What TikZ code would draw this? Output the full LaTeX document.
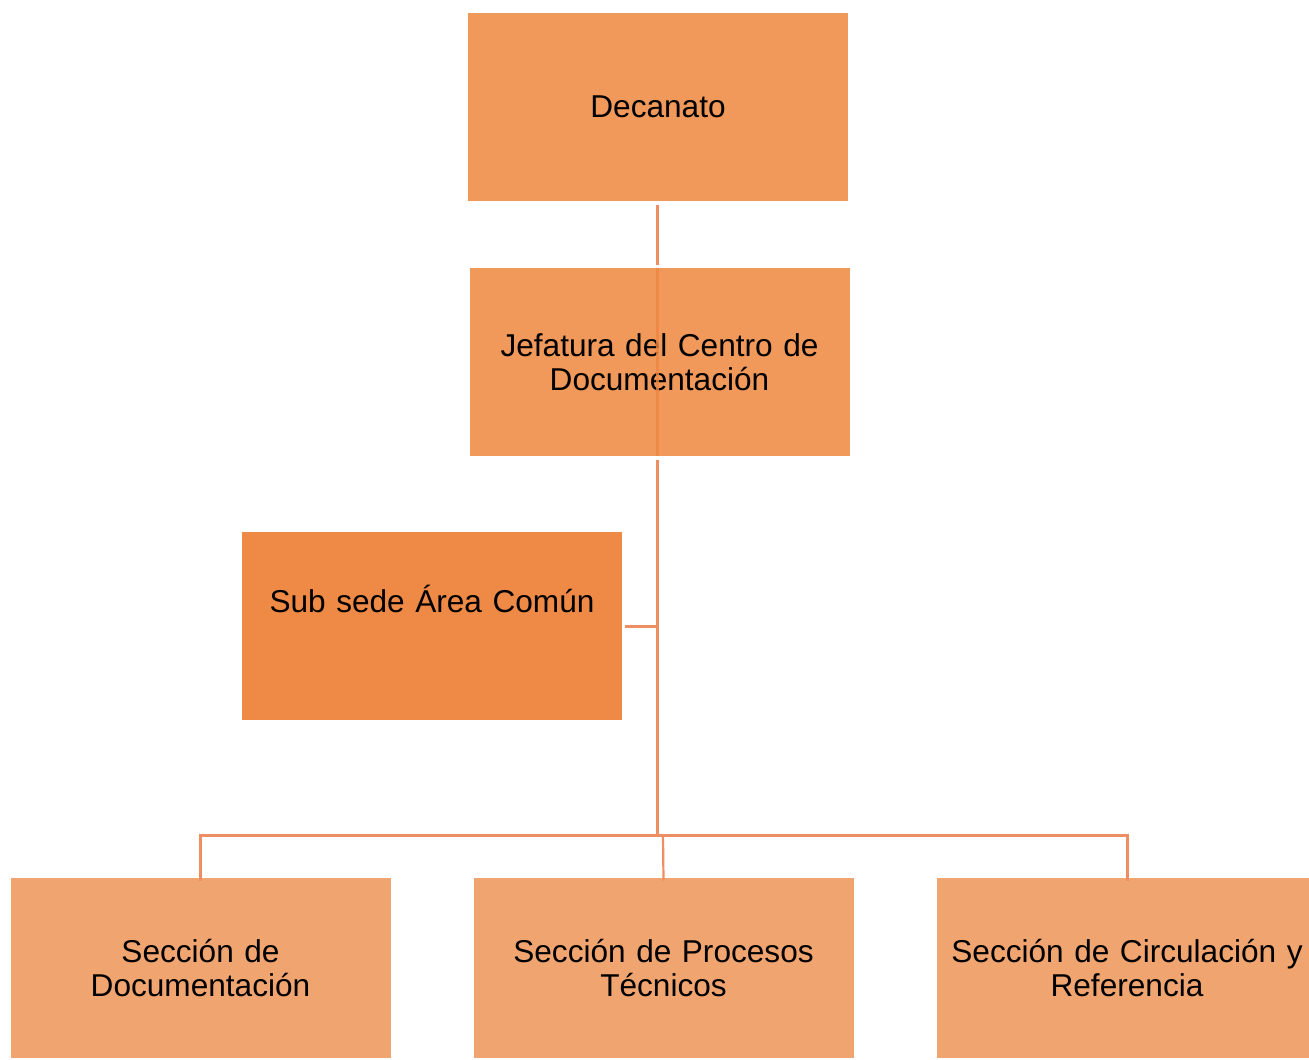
\documentclass[tikz,border=0pt]{standalone}
\usepackage{fontspec}
\setmainfont{Liberation Sans}
\definecolor{topfill}{RGB}{240,153,90}
\definecolor{subfill}{RGB}{238,138,70}
\definecolor{botfill}{RGB}{240,165,112}
\definecolor{conn}{RGB}{238,142,98}
\definecolor{connin}{RGB}{238,135,65}
\begin{document}
\begin{tikzpicture}[x=0.5pt,y=-0.5pt,
  orgbox/.style={rectangle, inner sep=0pt, align=center, font=\fontsize{15.8pt}{17pt}\selectfont,
    minimum width=190pt, minimum height=94pt, text width=188pt},
  link/.style={draw=conn, line width=1.5pt}]
\useasboundingbox (0,0) rectangle (1309,1059);
\node[orgbox, fill=topfill] (dec) at (658,107) {Decanato};
\node[orgbox, fill=topfill] (jef) at (659.5,362) {Jefatura del Centro de\\Documentación};
\node[orgbox, fill=subfill, text height=40pt, text depth=54pt] (sub) at (432,626) {Sub sede Área Común};
\node[orgbox, fill=botfill, minimum height=90pt] (s1) at (200.5,968) {Sección de\\Documentación};
\node[orgbox, fill=botfill, minimum height=90pt] (s2) at (663.5,968) {Sección de Procesos\\Técnicos};
\node[orgbox, fill=botfill, minimum height=90pt, minimum width=190pt] (s3) at (1127,968) {Sección de Circulación y\\Referencia};
\coordinate (bar) at (657,835);
\draw[link] ([yshift=-2pt]dec.south -| 657,0) -- ([yshift=1.5pt]jef.north -| 657,0);
\draw[draw=connin, line width=1.5pt, opacity=0.8] (jef.north -| 657,0) -- (jef.south -| 657,0);
\draw[link] ([yshift=-2pt]jef.south -| 657,0) -- (bar);
\draw[link] ([xshift=1.5pt]sub.east |- 0,626) -- (657,626);
\draw[link] ([yshift=-1.5pt]s1.north) |- (bar) -| ([yshift=-1.5pt]s3.north);
\draw[draw=conn, line width=1.1pt] ([yshift=-1.5pt]s2.north) -- (663,836);
\end{tikzpicture}
\end{document}
